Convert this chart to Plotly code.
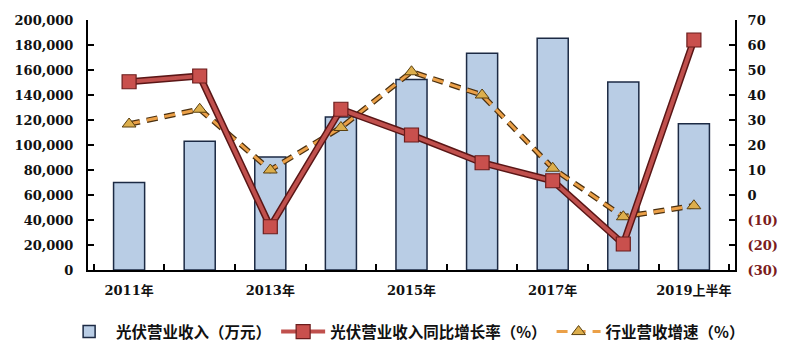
import plotly.graph_objects as go

categories = ["2011年", "2012年", "2013年", "2014年", "2015年", "2016年", "2017年", "2018年", "2019上半年"]
tick_labels = ["2011年", "", "2013年", "", "2015年", "", "2017年", "", "2019上半年"]
revenue = [70000, 103000, 90500, 122500, 152500, 173500, 185500, 150500, 117000]
revenue_growth = [45.3, 47.6, -12.7, 34.3, 24.0, 12.9, 5.7, -19.6, 62.0]
industry_growth = [28.4, 34.3, 10.0, 27.0, 49.3, 40.0, 10.7, -8.7, -4.3]

left_ticks = list(range(0, 200001, 20000))
right_ticks = [70, 60, 50, 40, 30, 20, 10, 0, -10, -20, -30]
neg_color = "#7b1c1c"
right_text = [
    str(v) if v >= 0 else f'<span style="color:{neg_color}">({abs(v)})</span>'
    for v in right_ticks
]

FONT = "DejaVu Serif, Noto Sans CJK SC, serif"
CJK = "Noto Sans CJK SC, DejaVu Sans, sans-serif"

fig = go.Figure()

fig.add_trace(go.Bar(
    x=categories, y=revenue, name="<b>光伏营业收入（万元）</b>",
    marker=dict(color="#b9cde5", line=dict(color="#1c2a44", width=1.5)),
    width=0.44, yaxis="y", legendrank=1,
))

# dark outlines (underlays)
fig.add_trace(go.Scatter(
    x=categories, y=industry_growth, yaxis="y2", mode="lines",
    line=dict(color="#4a3010", width=5.5, dash="11px,7px"),
    showlegend=False, hoverinfo="skip",
))
fig.add_trace(go.Scatter(
    x=categories, y=industry_growth, yaxis="y2", mode="lines+markers",
    name="<b>行业营收增速（%）</b>", legendrank=3,
    line=dict(color="#eba048", width=3, dash="11px,7px"),
    marker=dict(symbol="triangle-up", size=12, color="#dcae4c",
                line=dict(color="#5a4010", width=1)),
))
fig.add_trace(go.Scatter(
    x=categories, y=revenue_growth, yaxis="y2", mode="lines",
    line=dict(color="#5a1616", width=7),
    showlegend=False, hoverinfo="skip",
))
fig.add_trace(go.Scatter(
    x=categories, y=revenue_growth, yaxis="y2", mode="lines+markers",
    name="<b>光伏营业收入同比增长率（%）</b>", legendrank=2,
    line=dict(color="#c0504d", width=4),
    marker=dict(symbol="square", size=14, color="#c9504d",
                line=dict(color="#6b1d1d", width=1.2)),
))

fig.update_layout(
    width=800, height=358,
    margin=dict(l=80, r=73, t=12, b=96, autoexpand=False),
    paper_bgcolor="white", plot_bgcolor="white",
    font=dict(family=FONT, size=13, color="#111111"),
    barmode="overlay",
    showlegend=True,
    legend=dict(
        orientation="h", x=-0.04, xanchor="left", y=-0.18, yanchor="top",
        font=dict(family=CJK, size=15.5, color="#111111"),
        traceorder="normal", itemwidth=44,
        bgcolor="rgba(0,0,0,0)",
    ),
    xaxis=dict(
        type="category", categoryorder="array", categoryarray=categories,
        tickmode="array", tickvals=categories,
        ticktext=[f"<b>{t}</b>" if t else "" for t in tick_labels],
        tickson="boundaries", ticks="inside", ticklen=6, tickwidth=2, tickcolor="black",
        showline=True, linecolor="black", linewidth=2, tickangle=0,
        showgrid=False, ticklabelstandoff=7, automargin=False,
        tickfont=dict(family=FONT, size=13, color="#111111"),
    ),
    yaxis=dict(
        range=[0, 200000], tickmode="array", tickvals=left_ticks,
        ticktext=[f"<b>{v:,}</b>" for v in left_ticks],
        ticks="inside", ticklen=6, tickwidth=2, tickcolor="black",
        showline=True, linecolor="black", linewidth=2, automargin=False,
        showgrid=False, zeroline=False, ticklabelstandoff=10,
        tickfont=dict(family=FONT, size=13, color="#111111"),
    ),
    yaxis2=dict(
        range=[-30, 70], overlaying="y", side="right",
        tickmode="array", tickvals=right_ticks,
        ticktext=[f"<b>{t}</b>" for t in right_text],
        ticks="inside", ticklen=6, tickwidth=2, tickcolor="black",
        showline=True, linecolor="black", linewidth=2, automargin=False,
        showgrid=False, zeroline=False, ticklabelstandoff=8,
        tickfont=dict(family=FONT, size=13, color="#111111"),
    ),
)

fig.write_html("out.html")
